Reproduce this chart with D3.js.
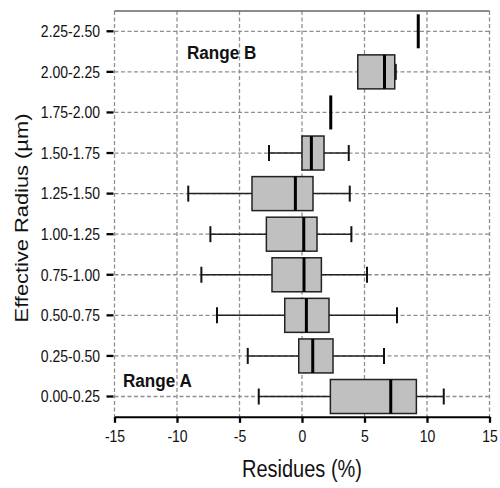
<!DOCTYPE html>
<html>
<head>
<meta charset="utf-8">
<script src="https://cdn.jsdelivr.net/npm/d3@7"></script>
<style>
  body { margin: 0; background: #fff; }
  svg text { font-family: Arial, "Liberation Sans", sans-serif; fill: #111; }
</style>
</head>
<body>
<svg id="chart" width="500" height="488"></svg>
<script>
// radius classes, bottom to top
var categories = ["0.00-0.25", "0.25-0.50", "0.50-0.75", "0.75-1.00", "1.00-1.25",
                  "1.25-1.50", "1.50-1.75", "1.75-2.00", "2.00-2.25", "2.25-2.50"];
var mins    = [-3.46, -4.34, -6.8, -8.05, -7.33, -9.1, -2.64, 2.3, 4.46, 9.3];
var q1s     = [ 2.27, -0.26, -1.38, -2.4, -2.85, -4.0,  0.0,  2.3, 4.46, 9.3];
var medians = [ 7.1,   0.86,  0.35,  0.16, 0.14, -0.53, 0.75, 2.3, 6.6,  9.3];
var q3s     = [ 9.15,  2.48,  2.16,  1.55, 1.2,   0.88, 1.76, 2.3, 7.42, 9.3];
var maxs    = [11.34,  6.56,  7.6,   5.2,  3.95,  3.82, 3.74, 2.3, 7.5,  9.3];
var xTicks = [-15, -10, -5, 0, 5, 10, 15];

var svg = d3.select("#chart");
var pLeft = 114.5, pRight = 489.5, pTop = 11, pBottom = 416.8;
var stretch = 1.15;

var x = d3.scaleLinear().domain([-15, 15]).range([pLeft, pRight]);
var y = d3.scaleBand().domain(categories).range([pBottom, pTop]);
var bh = y.bandwidth();
function cy(c) { return y(c) + bh / 2; }

var rows = categories.map(function(c, i) {
  return {cat: c, min: mins[i], q1: q1s[i], med: medians[i], q3: q3s[i], max: maxs[i]};
});

// grid
var grid = svg.append("g").attr("stroke", "#8f8f8f").attr("stroke-width", 1.3)
  .attr("stroke-dasharray", "4,2.5").attr("fill", "none");
grid.selectAll(".vg").data(xTicks).enter().append("line")
  .attr("x1", function(d) { return x(d); }).attr("x2", function(d) { return x(d); })
  .attr("y1", pTop).attr("y2", pBottom);
grid.selectAll(".hg").data(categories).enter().append("line")
  .attr("x1", pLeft).attr("x2", pRight)
  .attr("y1", cy).attr("y2", cy);

svg.append("line").attr("x1", pLeft).attr("x2", pRight).attr("y1", pTop).attr("y2", pTop)
  .attr("stroke", "#666").attr("stroke-width", 1.5);

// boxes
var boxH = 34, capH = 16;
var g = svg.append("g").selectAll("g").data(rows).enter().append("g")
  .attr("transform", function(d) { return "translate(0," + cy(d.cat) + ")"; });

g.append("line")
  .attr("x1", function(d) { return x(d.min); }).attr("x2", function(d) { return x(d.max); })
  .attr("stroke", "#222").attr("stroke-width", 1.5);
g.filter(function(d) { return d.min < d.q1; }).append("line")
  .attr("x1", function(d) { return x(d.min); }).attr("x2", function(d) { return x(d.min); })
  .attr("y1", -capH / 2).attr("y2", capH / 2)
  .attr("stroke", "#111").attr("stroke-width", 2);
g.filter(function(d) { return d.max > d.q3; }).append("line")
  .attr("x1", function(d) { return x(d.max); }).attr("x2", function(d) { return x(d.max); })
  .attr("y1", -capH / 2).attr("y2", capH / 2)
  .attr("stroke", "#111").attr("stroke-width", 2);
g.filter(function(d) { return d.q3 > d.q1; }).append("rect")
  .attr("x", function(d) { return x(d.q1); })
  .attr("width", function(d) { return x(d.q3) - x(d.q1); })
  .attr("y", -boxH / 2).attr("height", boxH)
  .attr("fill", "#c0c0c0").attr("stroke", "#222").attr("stroke-width", 1.5);
g.append("line")
  .attr("x1", function(d) { return x(d.med); }).attr("x2", function(d) { return x(d.med); })
  .attr("y1", -boxH / 2).attr("y2", boxH / 2)
  .attr("stroke", "#000").attr("stroke-width", 3);

// x axis
var xAxis = svg.append("g").attr("transform", "translate(0," + pBottom + ")")
  .call(d3.axisBottom(x).tickValues(xTicks).tickSize(6).tickSizeOuter(0)
    .tickFormat(function(d) { return String(d); }));
xAxis.select(".domain").attr("stroke", "#000").attr("stroke-width", 2);
xAxis.selectAll(".tick line").attr("stroke", "#000").attr("stroke-width", 2.3);
xAxis.selectAll(".tick text")
  .attr("y", 0).attr("dy", null)
  .attr("transform", "translate(0,25.5) scale(1," + stretch + ")")
  .style("font-size", "14px").attr("fill", "#111");

// y axis
var yAxis = svg.append("g").attr("transform", "translate(" + (pLeft - 1) + ",0)")
  .call(d3.axisLeft(y).tickSize(7).tickSizeOuter(0));
yAxis.select(".domain").remove();
yAxis.selectAll(".tick line").attr("stroke", "#000").attr("stroke-width", 2.3);
yAxis.selectAll(".tick text")
  .attr("x", 0).attr("dy", "0.36em")
  .attr("transform", "translate(-13.5,0) scale(1," + stretch + ")")
  .style("font-size", "14px").attr("fill", "#111");

// titles
svg.append("text")
  .attr("transform", "translate(" + x(0) + ",477) scale(1," + stretch + ")")
  .attr("text-anchor", "middle").style("font-size", "20px").text("Residues (%)");
svg.append("text")
  .attr("transform", "translate(28,218) rotate(-90) scale(" + stretch + ",1)")
  .attr("text-anchor", "middle").style("font-size", "19px").text("Effective Radius (µm)");

svg.append("text")
  .attr("transform", "translate(187,59) scale(1.07,1.12)")
  .style("font-size", "16px").style("font-weight", "bold").text("Range B");
svg.append("text")
  .attr("transform", "translate(123,386.5) scale(1.07,1.12)")
  .style("font-size", "16px").style("font-weight", "bold").text("Range A");
</script>
</body>
</html>
